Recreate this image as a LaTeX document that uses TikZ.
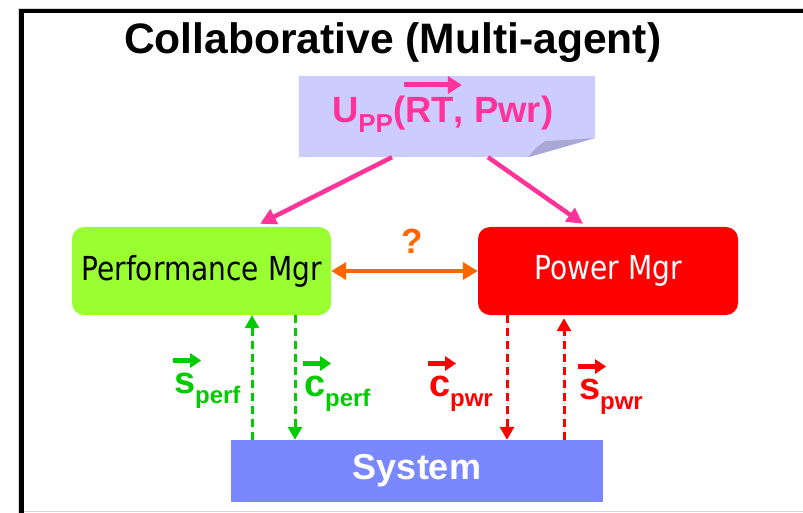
\documentclass[tikz,border=0pt]{standalone}
\usepackage{fontspec}
\setmainfont{Liberation Sans}
\newfontfamily\mgrfont[FakeStretch=0.85]{DejaVu Sans}
\usetikzlibrary{arrows.meta}

\definecolor{lavender}{HTML}{CCCCFF}
\definecolor{foldshade}{HTML}{A8A8D4}
\definecolor{utilpink}{HTML}{FF3399}
\definecolor{perfgreen}{HTML}{99FF33}
\definecolor{arrowgreen}{HTML}{00CC00}
\definecolor{pwrred}{HTML}{FF0000}
\definecolor{linkorange}{HTML}{FF6600}
\definecolor{sysblue}{HTML}{7A88FF}
\definecolor{rulegrey}{HTML}{D8D8D8}

\tikzset{
  mgrbox/.style={rounded corners=12pt, inner sep=0pt, font=\mgrfont\fontsize{33}{38}\selectfont},
  txt/.style={inner sep=0pt, outer sep=0pt},
  big/.style={txt, font=\bfseries\fontsize{36.5}{40}\selectfont},
  small/.style={txt, font=\bfseries\fontsize{26}{28}\selectfont},
  lbl/.style={txt, font=\bfseries\fontsize{38}{42}\selectfont},
  sublbl/.style={txt, font=\bfseries\fontsize{24}{26}\selectfont},
  vecarrow/.style={line width=4.5pt, -{Triangle[length=11pt,width=14pt]}},
  pinkarrow/.style={draw=utilpink, line width=4.5pt, -{Triangle[length=16pt,width=16pt]}},
  linkarrow/.style={draw=linkorange, line width=4.5pt,
    {Triangle[length=15pt,width=17pt]}-{Triangle[length=15pt,width=17pt]}},
  flow/.style={line width=3pt, dash pattern=on 8pt off 5pt,
    -{Triangle[length=13pt,width=14pt]}},
}

% vector label: letter with an arrow over it and a subscript
\newcommand\veclabel[6]{%
  \node[lbl, text=#2, anchor=base west] (#1) at (#3,#4) {#5};
  \node[sublbl, text=#2, anchor=base west] (#1-sub) at ([yshift=-10pt]#1.base east) {#6};
  \draw[vecarrow, draw=#2, fill=#2] ([xshift=-1pt,yshift=32.5pt]#1.base west)
    -- ([xshift=6pt,yshift=32.5pt]#1.base east);
}

\begin{document}
\begin{tikzpicture}[x=1pt, y=-1pt]
\useasboundingbox (0,0) rectangle (803,513);

% slide frame
\draw[rulegrey, line width=1pt] (18,8.5) -- (803,8.5);
\draw[rulegrey, line width=1pt] (18,8.5) -- (18,513);
\draw[rulegrey, line width=1.5pt] (19,511.5) -- (803,511.5);
\draw[black, line width=4.5pt] (19.25,11) -- (803,11);
\draw[black, line width=4.5pt] (21.5,8.75) -- (21.5,513);

% heading
\node[txt, anchor=base west, font=\bfseries\fontsize{42.6}{48}\selectfont]
  (title) at (124,54) {Collaborative (Multi-agent)};

% utility note with a folded corner
\node[minimum width=296pt, minimum height=81pt, inner sep=0pt] (util) at (447,116.5) {};
\fill[lavender] (util.north west) -- (util.north east)
  -- ([yshift=19pt]util.south east) -- ([xshift=-67pt]util.south east)
  -- (util.south west) -- cycle;
\fill[foldshade] ([xshift=-67pt]util.south east)
  .. controls ([xshift=-60pt,yshift=9pt]util.south east) .. ([xshift=-50pt,yshift=16pt]util.south east)
  -- ([xshift=-1pt,yshift=19pt]util.south east) -- cycle;

\node[big, text=utilpink, anchor=base west] (uU) at (332,123) {U};
\node[small, text=utilpink, anchor=base west] (uPP) at ([yshift=-10pt]uU.base east) {PP};
\node[big, text=utilpink, anchor=base west] (uOpen) at ([yshift=10pt]uPP.base east) {(};
\node[big, text=utilpink, anchor=base west] (uRT) at (uOpen.base east) {RT};
\node[big, text=utilpink, anchor=base west] (uRest) at (uRT.base east) {, Pwr)};
\draw[vecarrow, draw=utilpink, fill=utilpink, line width=5pt, -{Triangle[length=14pt,width=17pt]}]
  ([xshift=-1pt,yshift=38pt]uRT.base west) -- ([xshift=8pt,yshift=38pt]uRT.base east);

% managers and system
\node[mgrbox, fill=perfgreen, text=black, minimum width=259pt, minimum height=88pt]
  (perf) at (201.5,271) {Performance Mgr};
\node[mgrbox, fill=pwrred, text=white, minimum width=260pt, minimum height=88pt]
  (pwr) at (608,271) {Power Mgr};
\node[fill=sysblue, text=white, inner sep=0pt, minimum width=372pt, minimum height=62pt,
  font=\bfseries\fontsize{36}{40}\selectfont] (sys) at (417,471) {System};

% utility feeds both managers
\draw[pinkarrow] ([xshift=-55pt]util.south) -- ([xshift=58.5pt,yshift=3pt]perf.north);
\draw[pinkarrow] ([xshift=41pt]util.south) -- ([xshift=-25pt,yshift=3pt]pwr.north);

% open question between the managers
\draw[linkarrow] (perf.east) -- (pwr.west);
\node[txt, text=linkorange, anchor=base, font=\bfseries\fontsize{35}{40}\selectfont]
  (ask) at (412,253) {?};

% sensor / control loops
\draw[flow, draw=arrowgreen, fill=arrowgreen]
  ([xshift=50.5pt]perf.south |- sys.north) -- ([xshift=50.5pt]perf.south);
\draw[flow, draw=arrowgreen, fill=arrowgreen]
  ([xshift=93.5pt]perf.south) -- ([xshift=93.5pt]perf.south |- sys.north);
\draw[flow, draw=pwrred, fill=pwrred]
  ([xshift=-101pt]pwr.south) -- ([xshift=-101pt]pwr.south |- sys.north);
\draw[flow, draw=pwrred, fill=pwrred]
  ([xshift=-44pt]pwr.south |- sys.north) -- ([xshift=-44pt,yshift=-3pt]pwr.south);

\veclabel{sperf}{arrowgreen}{174}{393}{s}{perf}
\veclabel{cperf}{arrowgreen}{304}{396}{c}{perf}
\veclabel{cpwr}{pwrred}{429}{396}{c}{pwr}
\veclabel{spwr}{pwrred}{579}{399}{s}{pwr}
\end{tikzpicture}
\end{document}
